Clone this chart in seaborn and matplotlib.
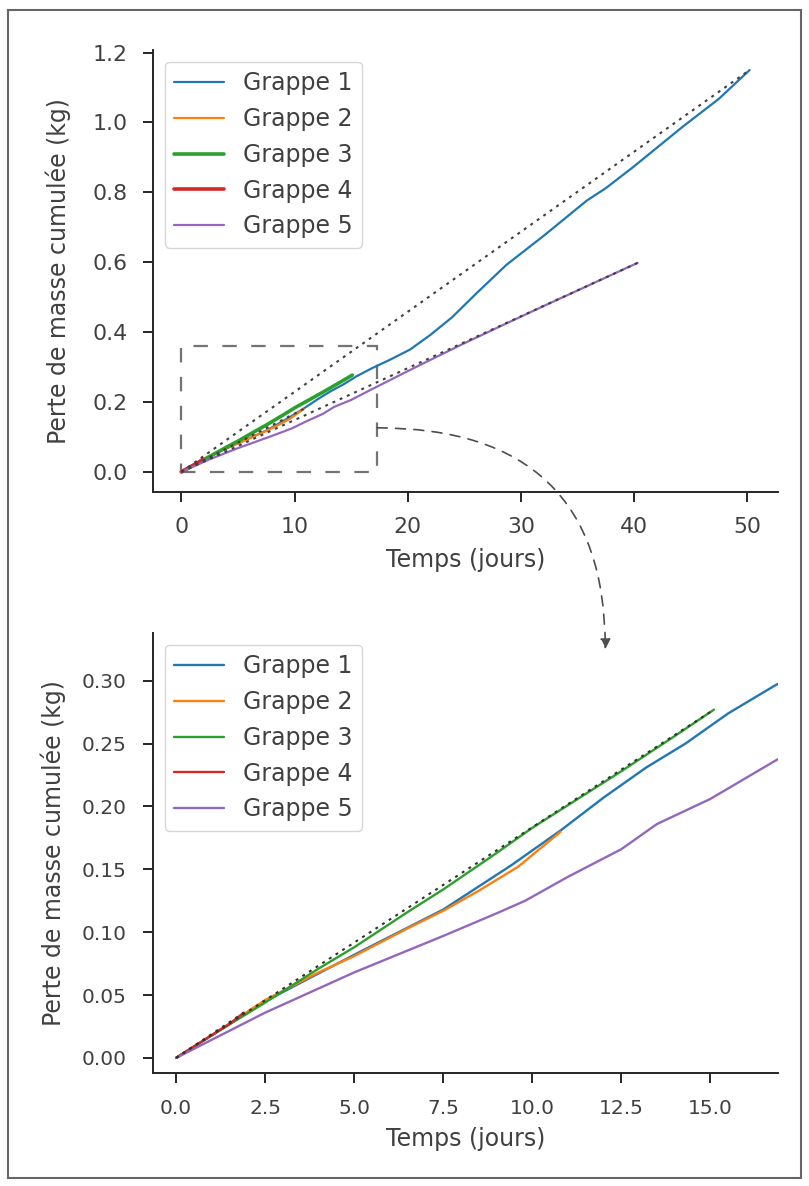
import numpy as np
import pandas as pd
import seaborn as sns
import matplotlib.pyplot as plt
from matplotlib.patches import Rectangle, ConnectionPatch
from matplotlib.ticker import MultipleLocator

sns.set_style("ticks")
plt.rcParams['font.family'] = ['DejaVu Sans']

# cumulative mass loss per cluster (time in days, mass in kg)
g1_t = [0, 2.5, 5, 7.5, 9.4, 10.8, 12.0, 13.2, 14.3, 15.5, 16.8, 18.5, 20.2, 22.0,
        23.9, 26.1, 28.7, 32.1, 35.8, 37.5, 39.9, 44.3, 47.5, 50.2]
g1_m = [0, 0.045, 0.082, 0.118, 0.153, 0.181, 0.207, 0.231, 0.250, 0.274, 0.296, 0.322,
        0.350, 0.392, 0.442, 0.512, 0.592, 0.678, 0.776, 0.812, 0.872, 0.988, 1.068, 1.15]

g2_t = [0, 1, 2.5, 4, 5, 6.5, 7.5, 8.5, 9.6, 10.8]
g2_m = [0, 0.018, 0.046, 0.068, 0.081, 0.103, 0.117, 0.133, 0.152, 0.180]

g3_t = [0, 1, 2.5, 4, 5, 6.5, 7.5, 9, 10, 11.5, 12.5, 14, 15.1]
g3_m = [0, 0.018, 0.044, 0.071, 0.088, 0.116, 0.134, 0.163, 0.183, 0.210, 0.228, 0.256, 0.277]

g4_t = [0, 0.5, 1.0, 1.5, 1.9]
g4_m = [0, 0.009, 0.018, 0.027, 0.036]

g5_t = [0, 2.5, 5, 7.5, 9.0, 9.8, 11.0, 12.5, 13.5, 15, 16.8, 20.6, 24.6,
        28.4, 32.1, 35.8, 40.3]
g5_m = [0, 0.036, 0.068, 0.097, 0.115, 0.125, 0.144, 0.166, 0.186, 0.206, 0.236,
        0.298, 0.362, 0.420, 0.476, 0.531, 0.598]

names = ["Grappe 1", "Grappe 2", "Grappe 3", "Grappe 4", "Grappe 5"]
times = [g1_t, g2_t, g3_t, g4_t, g5_t]
masses = [g1_m, g2_m, g3_m, g4_m, g5_m]
colors = sns.color_palette("tab10", 5)

# zoomed region shown in the lower panel
zoom_x = (0, 17.3)
zoom_y = (0, 0.36)

df = pd.concat([pd.DataFrame({"Temps": t, "Masse": m, "Grappe": n})
                for t, m, n in zip(times, masses, names)], ignore_index=True)

fig = plt.figure(figsize=(8.09, 11.86), dpi=100)
ax1 = fig.add_axes([0.1891, 0.5852, 0.7726, 0.3727])
ax2 = fig.add_axes([0.1891, 0.0953, 0.7726, 0.3710])

top_lw = [1.6, 1.6, 2.6, 2.6, 1.6]
for i, n in enumerate(names):
    sub = df[df.Grappe == n]
    sns.lineplot(data=sub, x="Temps", y="Masse", ax=ax1, color=colors[i], lw=top_lw[i],
                 label=n, sort=False, estimator=None)
    sns.lineplot(data=sub, x="Temps", y="Masse", ax=ax2, color=colors[i], lw=1.7,
                 label=n, sort=False, estimator=None)

# dotted chords from start to end of some clusters
dot = (0, (1.4, 2.4))
for i in [0, 1, 4]:
    ax1.plot([times[i][0], times[i][-1]], [masses[i][0], masses[i][-1]],
             ls=dot, color="0.25", lw=1.5, scalex=False, scaley=False)
for i in [2, 3]:
    ax2.plot([times[i][0], times[i][-1]], [masses[i][0], masses[i][-1]],
             ls=dot, color="0.2", lw=1.5, scalex=False, scaley=False)

ax1.autoscale()
ax1.add_patch(Rectangle((zoom_x[0], zoom_y[0]), zoom_x[1] - zoom_x[0], zoom_y[1] - zoom_y[0],
                        fill=False, ls=(0, (6.5, 6.5)), lw=1.6, edgecolor="0.45"))

ax2.set_xlim(-0.65, 16.9)
ax2.set_ylim(-0.012, 0.338)

ax1.xaxis.set_major_locator(MultipleLocator(10))
ax1.yaxis.set_major_locator(MultipleLocator(0.2))
ax2.xaxis.set_major_locator(MultipleLocator(2.5))
ax2.yaxis.set_major_locator(MultipleLocator(0.05))

tick_size = [15.8, 14.5]
tick_pad = [11, 12]
xlab_pad = [8, 6]
ylab_pad = [16, 11]
for k, ax in enumerate((ax1, ax2)):
    sns.despine(ax=ax)
    for s in ("left", "bottom"):
        ax.spines[s].set_linewidth(1.4)
        ax.spines[s].set_color("0.15")
    ax.tick_params(labelsize=tick_size[k], length=7, width=1.4, pad=tick_pad[k],
                   colors="0.15", labelcolor="0.25")
    ax.set_xlabel("Temps (jours)", fontsize=17, color="0.25", labelpad=xlab_pad[k])
    ax.set_ylabel("Perte de masse cumulée (kg)", fontsize=17, color="0.25",
                  labelpad=ylab_pad[k])
    ax.legend(loc="upper left", fontsize=17, labelcolor="0.25", handlelength=2.1,
              labelspacing=0.5)

con = ConnectionPatch(xyA=(zoom_x[1], 0.126), coordsA="data", axesA=ax1,
                      xyB=(12.05, 0.325), coordsB="data", axesB=ax2,
                      arrowstyle="-|>,head_length=0.5,head_width=0.25",
                      connectionstyle="angle3,angleA=0,angleB=90",
                      ls=(0, (6, 5)), lw=1.2, color="0.3", mutation_scale=12)
fig.add_artist(con)

fig.add_artist(Rectangle((8 / 809, 1 - 1178 / 1186), 793 / 809, 1168 / 1186,
                         transform=fig.transFigure, fill=False, lw=1.5, edgecolor="0.4"))

fig.savefig("out.png", dpi=100)
